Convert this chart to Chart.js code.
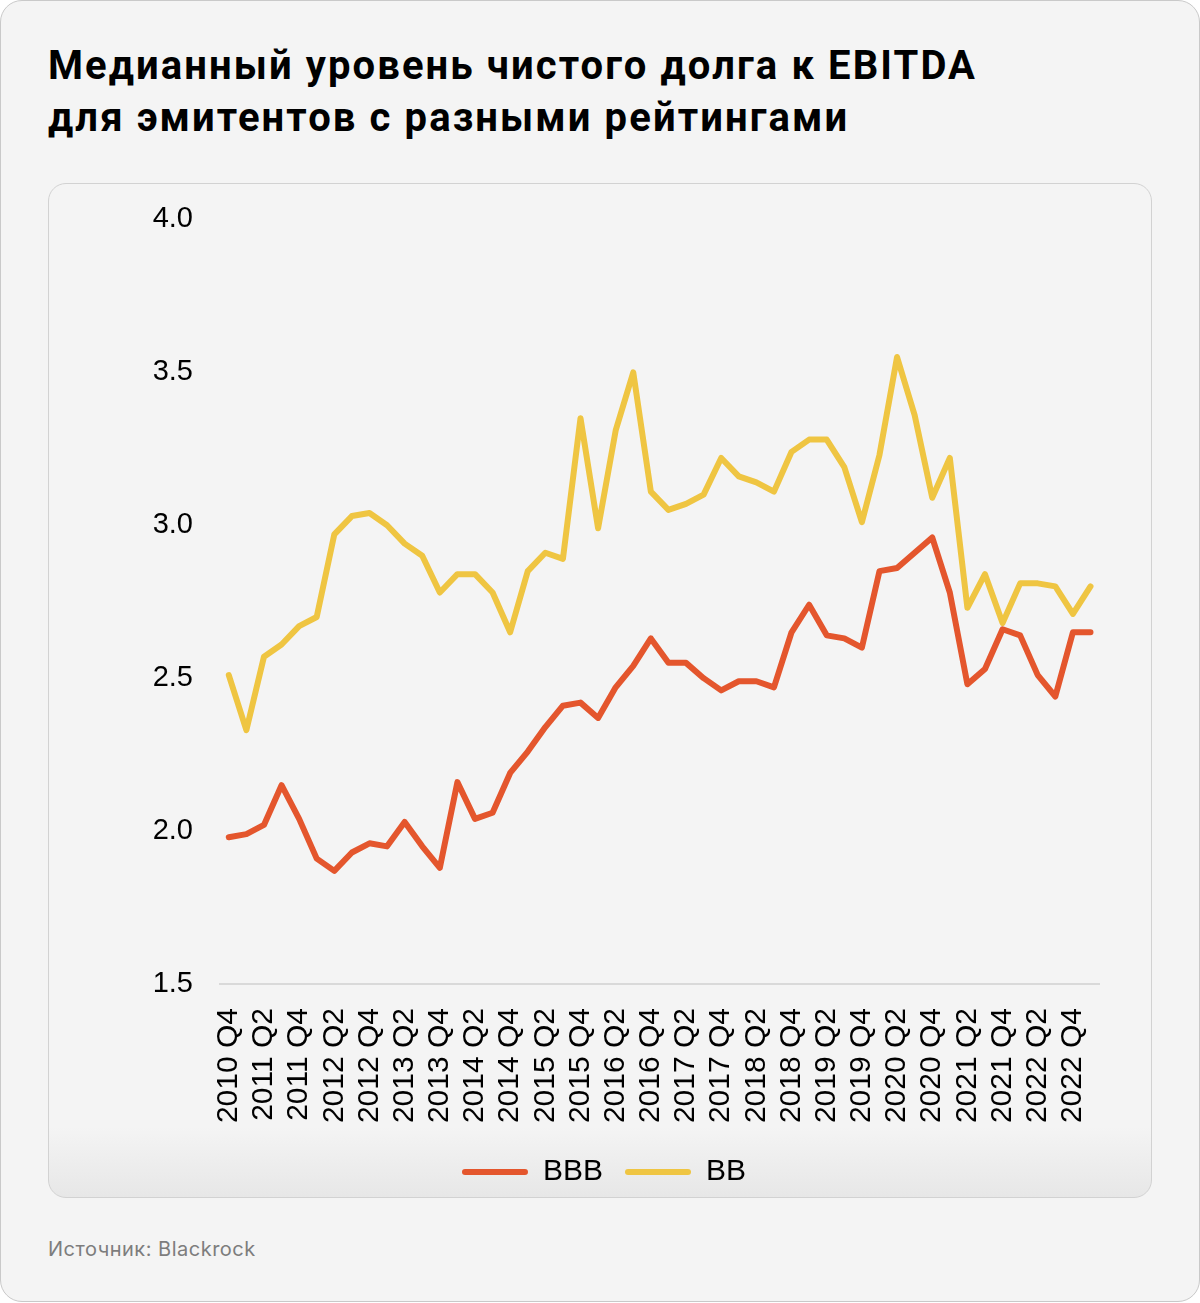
<!DOCTYPE html>
<html>
<head>
<meta charset="utf-8">
<script src="https://cdn.jsdelivr.net/npm/chart.js@4.4.1/dist/chart.umd.min.js"></script>
<style>
  html, body { margin: 0; padding: 0; background: #ffffff; }
  #card {
    position: absolute; left: 0; top: 0; width: 1198px; height: 1300px;
    background: #f4f4f4; border: 1px solid #c9c9c9; border-radius: 22px;
  }
  #title {
    position: absolute; left: 48px; top: 40px;
    font-family: Roboto, "Liberation Sans", sans-serif; font-weight: 700;
    font-size: 40px; line-height: 52px; color: #000; letter-spacing: 2.1px;
  }
  #inner {
    position: absolute; left: 48px; top: 183px; width: 1102px; height: 1013px;
    border: 1px solid #d2d2d2; border-radius: 18px;
    background: linear-gradient(to bottom, #f4f4f4 0, #f4f4f4 calc(100% - 70px), #e7e7e7 100%);
  }
  #wrap { position: absolute; left: 107px; top: 175px; width: 1044px; height: 1023px; }
  #source {
    position: absolute; left: 48px; top: 1237px;
    font-family: Inter, "Noto Sans", sans-serif; font-size: 20px; color: #7d7d7d;
    letter-spacing: 0.5px;
  }
</style>
</head>
<body>
<div id="card"></div>
<div id="title">Медианный уровень чистого долга к EBITDA<br>для эмитентов с разными рейтингами</div>
<div id="inner"></div>
<div id="wrap"><canvas id="chart"></canvas></div>
<div id="source">Источник: Blackrock</div>

<script>
// кварталы с 2010 Q4 по 2023 Q1
const quarters = [
  '2010 Q4',
  '2011 Q1', '2011 Q2', '2011 Q3', '2011 Q4',
  '2012 Q1', '2012 Q2', '2012 Q3', '2012 Q4',
  '2013 Q1', '2013 Q2', '2013 Q3', '2013 Q4',
  '2014 Q1', '2014 Q2', '2014 Q3', '2014 Q4',
  '2015 Q1', '2015 Q2', '2015 Q3', '2015 Q4',
  '2016 Q1', '2016 Q2', '2016 Q3', '2016 Q4',
  '2017 Q1', '2017 Q2', '2017 Q3', '2017 Q4',
  '2018 Q1', '2018 Q2', '2018 Q3', '2018 Q4',
  '2019 Q1', '2019 Q2', '2019 Q3', '2019 Q4',
  '2020 Q1', '2020 Q2', '2020 Q3', '2020 Q4',
  '2021 Q1', '2021 Q2', '2021 Q3', '2021 Q4',
  '2022 Q1', '2022 Q2', '2022 Q3', '2022 Q4',
  '2023 Q1'
]

const bbbValues = [
  1.98,
  1.99, 2.02, 2.15, 2.04,
  1.91, 1.87, 1.93, 1.96,
  1.95, 2.03, 1.95, 1.88,
  2.16, 2.04, 2.06, 2.19,
  2.26, 2.34, 2.41, 2.42,
  2.37, 2.47, 2.54, 2.63,
  2.55, 2.55, 2.50, 2.46,
  2.49, 2.49, 2.47, 2.65,
  2.74, 2.64, 2.63, 2.60,
  2.85, 2.86, 2.91, 2.96,
  2.78, 2.48, 2.53, 2.66,
  2.64, 2.51, 2.44, 2.65,
  2.65
]

const bbValues = [
  2.51,
  2.33, 2.57, 2.61, 2.67,
  2.70, 2.97, 3.03, 3.04,
  3.00, 2.94, 2.90, 2.78,
  2.84, 2.84, 2.78, 2.65,
  2.85, 2.91, 2.89, 3.35,
  2.99, 3.31, 3.50, 3.11,
  3.05, 3.07, 3.10, 3.22,
  3.16, 3.14, 3.11, 3.24,
  3.28, 3.28, 3.19, 3.01,
  3.23, 3.55, 3.36, 3.09,
  3.22, 2.73, 2.84, 2.68,
  2.81, 2.81, 2.80, 2.71,
  2.80
]

const yTicks = [1.5, 2.0, 2.5, 3.0, 3.5, 4.0]

const RED = '#e4562d'
const YELLOW = '#efc542'

const lineStyle = (color) => ({
  borderColor: color,
  backgroundColor: color,
  borderWidth: 6,
  pointRadius: 0,
  borderCapStyle: 'round',
  borderJoinStyle: 'round',
  tension: 0,
  fill: false
})

new Chart(document.getElementById('chart'), {
  type: 'line',
  data: {
    labels: quarters,
    datasets: [
      { label: 'BBB', data: bbbValues, ...lineStyle(RED) },
      { label: 'BB', data: bbValues, ...lineStyle(YELLOW) }
    ]
  },
  options: {
    responsive: true,
    maintainAspectRatio: false,
    animation: false,
    layout: { padding: { top: 0, right: 50, left: 0, bottom: 1 } },
    plugins: {
      tooltip: { enabled: false },
      legend: {
        position: 'bottom',
        labels: {
          boxWidth: 66,
          boxHeight: 6,
          useBorderRadius: true,
          borderRadius: 3,
          padding: 22,
          color: '#000',
          font: { family: '"Liberation Sans", Arial, sans-serif', size: 30 },
          generateLabels: (chart) => chart.data.datasets.map((ds, i) => ({
            text: ds.label,
            fillStyle: ds.borderColor,
            strokeStyle: ds.borderColor,
            lineWidth: 0,
            borderRadius: 3,
            datasetIndex: i,
            hidden: false
          }))
        }
      }
    },
    scales: {
      x: {
        offset: true,
        grid: { display: false, drawTicks: false },
        border: { display: true, color: '#d9d9d9', width: 2 },
        afterFit: (scale) => { scale.height = 151 },
        ticks: {
          autoSkip: false,
          maxRotation: 90,
          minRotation: 90,
          padding: 24,
          color: '#000',
          font: { family: '"Liberation Sans", Arial, sans-serif', size: 30 },
          callback: function (value, index) {
            return index % 2 === 0 ? quarters[index] : ''
          }
        }
      },
      y: {
        min: 1.5,
        max: 4.0,
        afterBuildTicks: (scale) => { scale.ticks = yTicks.map(v => ({ value: v })) },
        afterFit: (scale) => { scale.width = 113 },
        grid: { display: false, drawTicks: false },
        border: { display: false },
        ticks: {
          padding: 27,
          color: '#000',
          font: { family: '"Liberation Sans", Arial, sans-serif', size: 29 },
          callback: (v) => v.toFixed(1)
        }
      }
    }
  }
})
</script>
</body>
</html>
